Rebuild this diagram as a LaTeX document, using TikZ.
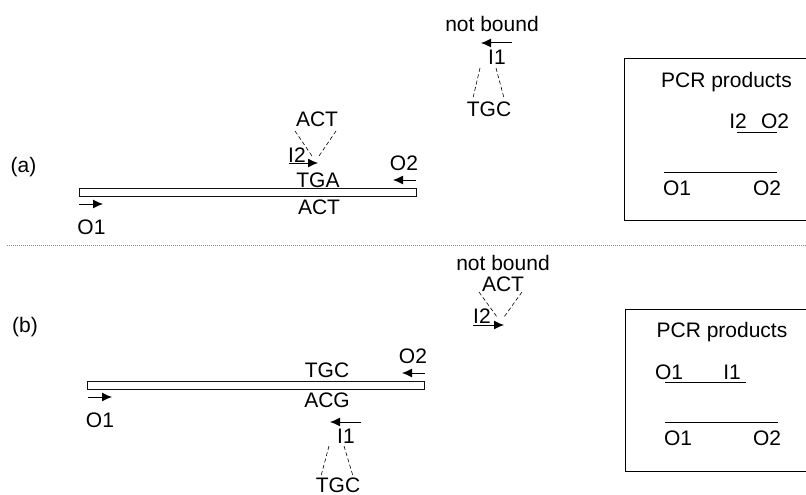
\documentclass[tikz,border=0pt]{standalone}
\usepackage{fontspec}
\setmainfont{Liberation Sans}
\usepackage{tikz}
\usetikzlibrary{arrows.meta,positioning}
\definecolor{dotgrey}{HTML}{8A8A8A}
\definecolor{duplex}{HTML}{111111}
\tikzset{
  lbl/.style={inner sep=0pt,font=\fontsize{21}{24}\selectfont},
  strand/.style={draw=duplex,line width=1pt,fill=white,minimum width=337pt,minimum height=8pt,inner sep=0pt},
  primer/.style={-{Latex[length=10pt,width=9pt]},line width=1pt},
  tether/.style={line width=0.6pt,dash pattern=on 4pt off 2.5pt},
  product/.style={line width=1pt},
  frame/.style={line width=1pt}
}
\begin{document}
\begin{tikzpicture}[x=1pt,y=-1pt]
  \useasboundingbox (0,0) rectangle (806,495);
  % panel (a)
  \node[lbl] (taga) at (23.5,167) {(a)};
  \node[strand] (dna) at (247.5,192) {};
  \node[lbl] (tga) at (318,180) {TGA};
  \node[lbl] (act) at (319,207) {ACT};
  \coordinate (o1s) at (79,204);
  \coordinate (o1e) at (103,204);
  \draw[primer] (o1s)--(o1e);
  \node[lbl] (o1) at (91.5,227) {O1};
  \node[lbl] (o2) at (404,163) {O2};
  \coordinate (o2s) at (416,180);
  \coordinate (o2e) at (393,180);
  \draw[primer] (o2s)--(o2e);
  \node[lbl] (i2) at (297,155) {I2};
  \coordinate (i2s) at (289,163);
  \coordinate (i2e) at (318,163);
  \draw[primer] (i2s)--(i2e);
  \node[lbl] (loop) at (317,119) {ACT};
  \coordinate (lpa) at (295,131);
  \coordinate (lpb) at (312,156);
  \coordinate (lpc) at (336,131);
  \coordinate (lpd) at (319,156);
  \draw[tether] (lpa)--(lpb);
  \draw[tether] (lpc)--(lpd);
  % unbound primer of (a)
  \node[lbl] (free) at (492,23.5) {not bound};
  \coordinate (i1s) at (512,43);
  \coordinate (i1e) at (481,43);
  \draw[primer] (i1s)--(i1e);
  \node[lbl] (i1) at (497,57) {I1};
  \node[lbl] (tgc) at (489,109) {TGC};
  \coordinate (fla) at (480,68);
  \coordinate (flb) at (473,98);
  \coordinate (flc) at (496,68);
  \coordinate (fld) at (504,98);
  \draw[tether] (fla)--(flb);
  \draw[tether] (flc)--(fld);
  % products of (a)
  \coordinate (boxtr) at (806,59);
  \coordinate (boxtl) at (624,59);
  \coordinate (boxbl) at (624,220);
  \coordinate (boxbr) at (806,220);
  \draw[frame] (boxtr)--(boxtl)--(boxbl)--(boxbr);
  \node[lbl] (pcr) at (726.5,82) {PCR products};
  \node[lbl] (pi2) at (738,121) {I2};
  \node[lbl] (po2) at (775,121) {O2};
  \coordinate (sha) at (737,132);
  \coordinate (shb) at (777,132);
  \draw[product] (sha)--(shb);
  \coordinate (lga) at (664,172);
  \coordinate (lgb) at (777,172);
  \draw[product] (lga)--(lgb);
  \node[lbl] (lo1) at (677,188) {O1};
  \node[lbl] (lo2) at (767,188) {O2};
  % dotted separator
  \coordinate (sepl) at (7,245);
  \coordinate (sepr) at (806,245);
  \draw[dotgrey,line width=1pt,dash pattern=on 1pt off 1pt] (sepl)--(sepr);
  % panel (b)
  \node[lbl] (tagb) at (25,327) {(b)};
  \node[strand] (dnb) at (256,385.5) {};
  \node[lbl] (tgcb) at (327,370) {TGC};
  \node[lbl] (acg) at (327,400) {ACG};
  \coordinate (o1sb) at (88,397);
  \coordinate (o1eb) at (112,397);
  \draw[primer] (o1sb)--(o1eb);
  \node[lbl] (o1b) at (100,420) {O1};
  \node[lbl] (o2b) at (413,356) {O2};
  \coordinate (o2sb) at (425,373);
  \coordinate (o2eb) at (402,373);
  \draw[primer] (o2sb)--(o2eb);
  \coordinate (i1sb) at (361,422);
  \coordinate (i1eb) at (330,422);
  \draw[primer] (i1sb)--(i1eb);
  \node[lbl] (i1b) at (346,436) {I1};
  \node[lbl] (loopb) at (338,485.5) {TGC};
  \coordinate (lqa) at (329,446);
  \coordinate (lqb) at (321,476);
  \coordinate (lqc) at (344,446);
  \coordinate (lqd) at (353,476);
  \draw[tether] (lqa)--(lqb);
  \draw[tether] (lqc)--(lqd);
  % unbound primer of (b)
  \node[lbl] (freeb) at (503,263) {not bound};
  \node[lbl] (actb) at (503,284) {ACT};
  \coordinate (fma) at (479,292);
  \coordinate (fmb) at (497,317);
  \coordinate (fmc) at (522,292);
  \coordinate (fmd) at (504,317);
  \draw[tether] (fma)--(fmb);
  \draw[tether] (fmc)--(fmd);
  \node[lbl] (i2b) at (482,316) {I2};
  \coordinate (i2sb) at (473,325);
  \coordinate (i2eb) at (504,325);
  \draw[primer] (i2sb)--(i2eb);
  % products of (b)
  \coordinate (bxtr) at (806,309);
  \coordinate (bxtl) at (625,309);
  \coordinate (bxbl) at (625,471);
  \coordinate (bxbr) at (806,471);
  \draw[frame] (bxtr)--(bxtl)--(bxbl)--(bxbr);
  \node[lbl] (pcrb) at (722,332) {PCR products};
  \node[lbl] (po1b) at (669,372) {O1};
  \node[lbl] (pi1b) at (732,372) {I1};
  \coordinate (shc) at (665,382);
  \coordinate (shd) at (746,382);
  \draw[product] (shc)--(shd);
  \coordinate (lgc) at (665,422);
  \coordinate (lgd) at (778,422);
  \draw[product] (lgc)--(lgd);
  \node[lbl] (lo1b) at (678,438) {O1};
  \node[lbl] (lo2b) at (767,438) {O2};
\end{tikzpicture}
\end{document}
